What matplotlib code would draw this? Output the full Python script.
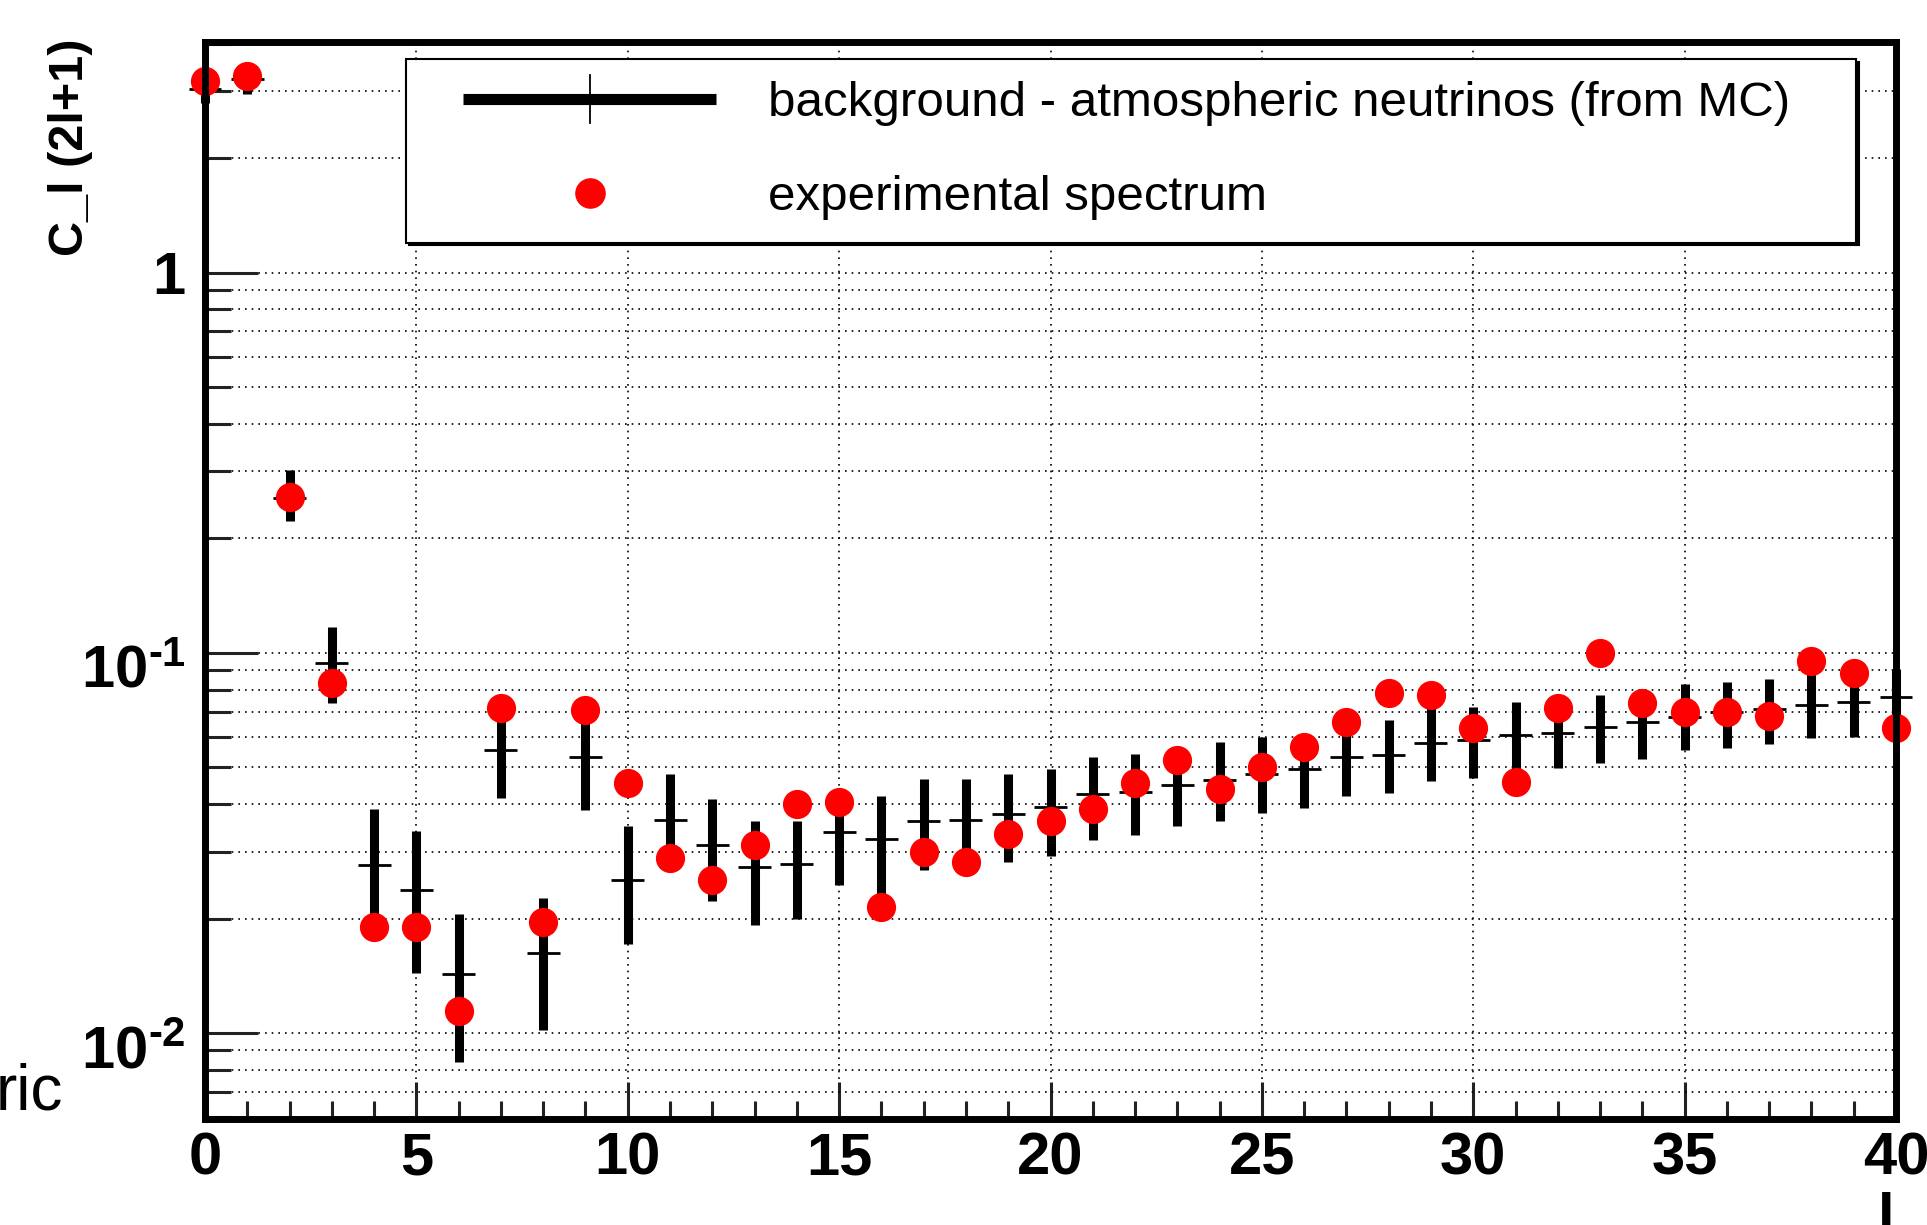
import numpy as np
import matplotlib
matplotlib.use("Agg")
import matplotlib.pyplot as plt
from matplotlib import font_manager
from matplotlib.lines import Line2D
from matplotlib.legend_handler import HandlerBase
from matplotlib.transforms import ScaledTranslation
from matplotlib.ticker import FixedLocator, FixedFormatter, LogLocator, NullFormatter, MultipleLocator

# narrow bold face for the axis numbers, if it is there
try:
    font_manager.findfont(font_manager.FontProperties(family='Liberation Sans Narrow', weight='bold'),
                          fallback_to_default=False)
    num_font = 'Liberation Sans Narrow'
    num_size = 48
except ValueError:
    num_font = 'Liberation Sans'
    num_size = 43

plt.rcParams['font.family'] = ['Liberation Sans', 'DejaVu Sans']
plt.rcParams['mathtext.fontset'] = 'custom'
plt.rcParams['mathtext.rm'] = num_font + ':bold'
plt.rcParams['mathtext.bf'] = num_font + ':bold'

# multipole l
ell = np.arange(0, 41)

# experimental spectrum C_l (2l+1)
exp_vals = [3.19, 3.28, 0.257, 0.0833, 0.0190, 0.0190, 0.0114, 0.0715, 0.0196, 0.0706,
            0.0455, 0.0288, 0.0252, 0.0313, 0.0399, 0.0404, 0.0215, 0.0299, 0.0281, 0.0333,
            0.0360, 0.0388, 0.0455, 0.0523, 0.0438, 0.0500, 0.0565, 0.0656, 0.0784, 0.0774,
            0.0636, 0.0456, 0.0715, 0.1000, 0.0738, 0.0697, 0.0697, 0.0682, 0.0954, 0.0887,
            0.0636]

# background from MC: central value and band edges
bkg_mid = [3.04, 3.23, 0.255, 0.0942, 0.0277, 0.0238, 0.0143, 0.0555, 0.0162, 0.0532,
           0.0253, 0.0364, 0.0313, 0.0274, 0.0278, 0.0338, 0.0323, 0.0360, 0.0364, 0.0376,
           0.0394, 0.0424, 0.0430, 0.0449, 0.0462, 0.0481, 0.0496, 0.0531, 0.0539, 0.0580,
           0.0591, 0.0608, 0.0616, 0.0639, 0.0656, 0.0679, 0.0697, 0.0710, 0.0731, 0.0740,
           0.0764]
bkg_hi = [3.30, 3.50, 0.302, 0.1167, 0.0389, 0.0340, 0.0206, 0.0697, 0.0226, 0.0688,
          0.0350, 0.0481, 0.0413, 0.0361, 0.0362, 0.0392, 0.0419, 0.0465, 0.0465, 0.0481,
          0.0496, 0.0532, 0.0541, 0.0551, 0.0583, 0.0599, 0.0595, 0.0670, 0.0667, 0.0744,
          0.0719, 0.0744, 0.0725, 0.0774, 0.0794, 0.0826, 0.0837, 0.0853, 0.0893, 0.0882,
          0.0906]
bkg_lo = [2.80, 2.95, 0.222, 0.0738, 0.0193, 0.0144, 0.00837, 0.0415, 0.0102, 0.0385,
          0.0171, 0.0302, 0.0223, 0.0192, 0.0200, 0.0245, 0.0232, 0.0268, 0.0268, 0.0281,
          0.0292, 0.0321, 0.0331, 0.0351, 0.0361, 0.0379, 0.0390, 0.0421, 0.0427, 0.0461,
          0.0468, 0.0483, 0.0499, 0.0513, 0.0527, 0.0554, 0.0561, 0.0577, 0.0596, 0.0600,
          0.0661]

ytick_vals = [0.01, 0.1, 1.0]
ytick_labels = [r'$\mathbf{10^{\text{-}2}}$', r'$\mathbf{10^{\text{-}1}}$', '1']
labels = ["background - atmospheric neutrinos (from MC)", "experimental spectrum"]


class BkgHandler(HandlerBase):
    def create_artists(self, legend, orig_handle, xdescent, ydescent, width, height, fontsize, trans):
        y = height / 2 - ydescent
        x0 = -xdescent + 0.12 * width
        x1 = -xdescent + 0.99 * width
        xm = (x0 + x1) / 2
        thick = Line2D([x0, x1], [y, y], lw=8, color='black', solid_capstyle='butt', transform=trans)
        thin = Line2D([xm, xm], [y - 0.7 * height, y + 0.7 * height], lw=1.3, color='black', transform=trans)
        return [thick, thin]


class DotHandler(HandlerBase):
    def create_artists(self, legend, orig_handle, xdescent, ydescent, width, height, fontsize, trans):
        y = height / 2 - ydescent
        xm = -xdescent + (0.12 * width + 0.99 * width) / 2
        dot = Line2D([xm], [y], ls='none', marker='o', ms=21, color='red', mec='red', transform=trans)
        return [dot]


fig = plt.figure(figsize=(19.27, 12.25), dpi=100)
fig.patch.set_facecolor('white')
ax = fig.add_axes([205 / 1927, 1 - 1119 / 1225, (1896 - 205) / 1927, (1119 - 42) / 1225])

ax.set_yscale('log')
ax.set_xlim(0, 40)
ax.set_ylim(0.00594, 4.04)

lo = np.array(bkg_lo)
hi = np.array(bkg_hi)
mid = np.array(bkg_mid)
ax.vlines(ell, lo, hi, colors='black', lw=6.5, clip_on=False, zorder=3)
ax.hlines(mid, ell - 0.39, ell + 0.39, colors='black', lw=2.0, clip_on=False, zorder=3)
ax.plot(ell, exp_vals, 'o', ms=20, color='red', mec='red', clip_on=False, zorder=4)

for s in ax.spines.values():
    s.set_linewidth(5)
    s.set_zorder(5)

ax.yaxis.set_major_locator(FixedLocator(ytick_vals))
ax.yaxis.set_major_formatter(FixedFormatter(ytick_labels))
ax.yaxis.set_minor_locator(LogLocator(base=10, subs=np.arange(2, 10)))
ax.yaxis.set_minor_formatter(NullFormatter())
ax.xaxis.set_major_locator(MultipleLocator(5))
ax.xaxis.set_minor_locator(MultipleLocator(1))

ax.tick_params(axis='both', which='both', direction='in', color='#222222', top=False, right=False)
ax.tick_params(axis='y', which='major', length=38, width=2.2, pad=14, labelsize=num_size)
ax.tick_params(axis='y', which='minor', length=19, width=2.2)
ax.tick_params(axis='x', which='major', length=27, width=2.2, pad=9, labelsize=num_size)
ax.tick_params(axis='x', which='minor', length=13, width=2.2)
for t in ax.get_xticklabels() + ax.get_yticklabels():
    t.set_fontweight('bold')
    t.set_family([num_font, 'Liberation Sans', 'DejaVu Sans'])

# power-of-ten labels sit a little below their tick, as in the original
shift = ScaledTranslation(0, -10 / 72, fig.dpi_scale_trans)
for t in ax.get_yticklabels()[:2]:
    t.set_transform(t.get_transform() + shift)

ax.grid(True, which='both', axis='y', color='black', ls=(0, (1, 3)), lw=1.2)
ax.grid(True, which='major', axis='x', color='black', ls=(0, (1, 3)), lw=1.2)
ax.set_axisbelow(True)

ax.set_ylabel("C_l (2l+1)", fontsize=35, fontweight='bold', loc='top')
ax.yaxis.label.set_va('center')
ax.yaxis.set_label_coords(-0.0795, 1.003)
ax.set_xlabel("l", fontsize=num_size, fontweight='bold', loc='right')
ax.xaxis.label.set_va('top')
ax.xaxis.label.set_family([num_font, 'Liberation Sans', 'DejaVu Sans'])
ax.xaxis.set_label_coords(0.999, -0.068)

h_bkg = object()
h_exp = object()
leg = ax.legend([h_bkg, h_exp], labels,
                handler_map={h_bkg: BkgHandler(), h_exp: DotHandler()}, loc='upper left',
                bbox_to_anchor=(406 / 1927, 1 - 59 / 1225, (1856 - 406) / 1927, 0),
                bbox_transform=fig.transFigure, mode='expand', borderaxespad=0,
                fontsize=35.5, frameon=True, fancybox=False, framealpha=1,
                edgecolor='black', borderpad=0.45, labelspacing=1.0,
                handlelength=5.9, handletextpad=1.0,
                shadow={'color': 'black', 'alpha': 1})
leg.get_frame().set_linewidth(1.5)
leg.set_zorder(6)

fig.text(63 / 1927, 1 - 1110 / 1225, "ric", fontsize=46, ha='right', va='baseline')

fig.savefig("out.png", dpi=100)
